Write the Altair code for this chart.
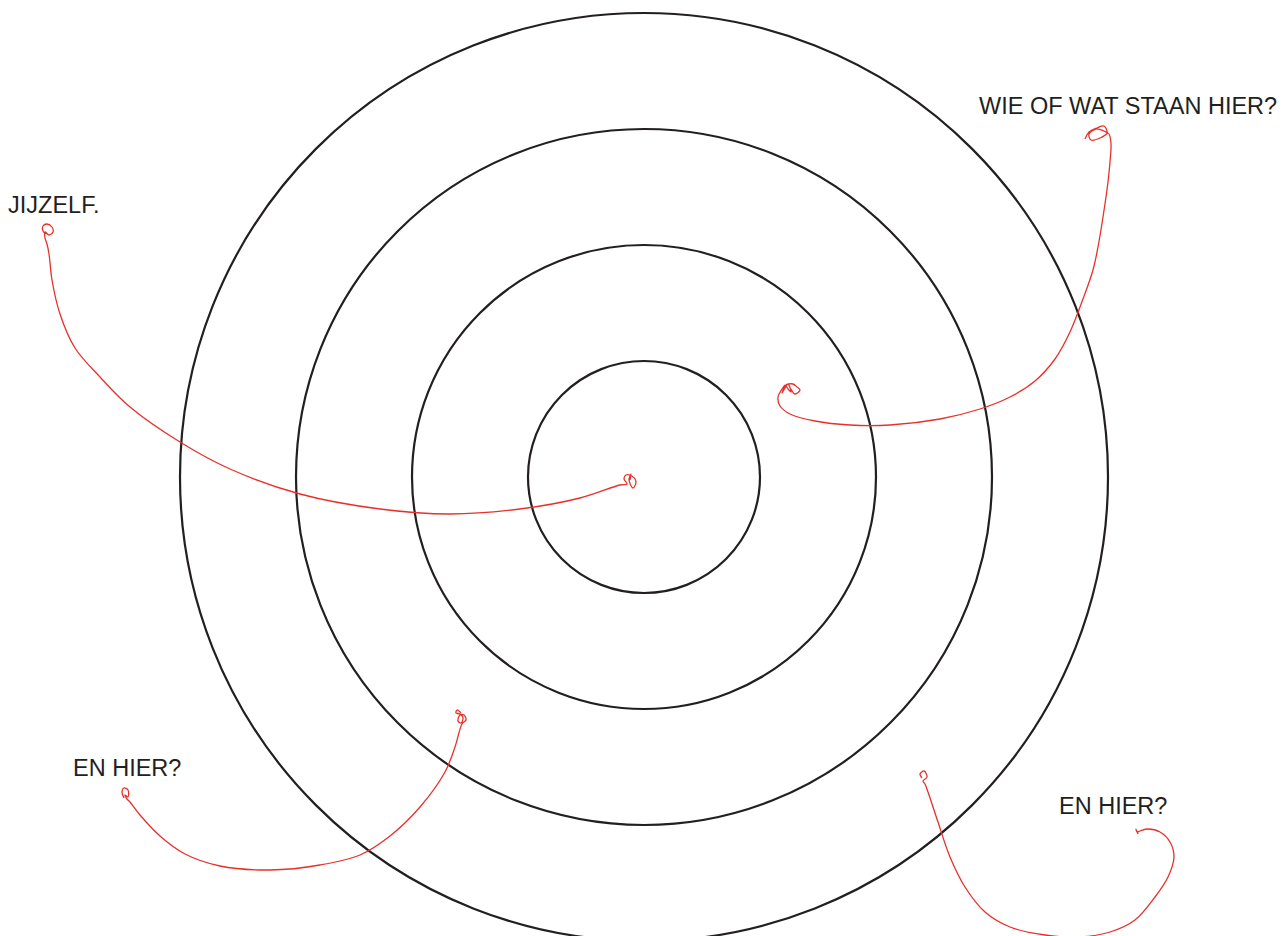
import altair as alt
import pandas as pd

# Concentric rings (centre and radii, in page pixels)
ring_cx = 644
ring_cy = 475
ring_r = [116, 232, 348, 464]

# Labels
label_text = ["JIJZELF.", "WIE OF WAT STAAN HIER?", "EN HIER?", "EN HIER?"]
label_x = [8, 979, 73, 1059]
label_y = [211, 112, 774, 812]

# Hand-drawn red strokes (traced points)
c1_x = [46, 43, 43, 47, 52, 53, 49, 45, 45, 47, 49, 52, 60, 75, 100, 130, 180, 230, 300, 380, 450, 520, 580, 620, 627, 624, 626, 632, 636, 633, 629, 631, 630]
c1_y = [232, 229, 224, 222, 225, 230, 233, 230, 236, 242, 252, 278, 312, 346, 375, 405, 440, 467, 492, 507, 512, 507, 496, 483, 482, 477, 473, 474, 480, 486, 478, 472, 478]

c2_x = [1085, 1089, 1097, 1104, 1107, 1100, 1091, 1089, 1096, 1104, 1109, 1111, 1110, 1108, 1103, 1098, 1093, 1083, 1070, 1055, 1035, 1010, 980, 940, 890, 850, 815, 790, 780, 778, 782, 785, 782, 788, 791, 786, 793, 797, 800, 795, 791]
c2_y = [137, 130, 126, 124, 131, 136, 138, 132, 127, 129, 132, 142, 160, 180, 215, 245, 268, 297, 330, 357, 379, 395, 407, 417, 423, 423, 419, 412, 404, 395, 387, 383, 391, 382, 390, 383, 382, 385, 388, 392, 387]

c3_x = [124, 122, 124, 128, 128, 125, 127, 130, 140, 160, 185, 220, 270, 320, 360, 390, 420, 445, 455, 462, 466, 464, 460, 458, 461, 463, 460, 456, 457, 461]
c3_y = [796, 790, 786, 788, 795, 793, 797, 800, 813, 834, 852, 864, 868, 863, 853, 834, 805, 770, 745, 722, 718, 713, 713, 719, 721, 716, 712, 711, 708, 711]

c4_x = [922, 920, 924, 927, 923, 925, 928, 938, 950, 965, 985, 1010, 1045, 1080, 1110, 1135, 1155, 1168, 1174, 1170, 1160, 1148, 1140, 1137, 1136, 1138]
c4_y = [776, 772, 769, 775, 779, 782, 790, 820, 855, 885, 910, 925, 933, 935, 930, 918, 895, 875, 855, 840, 830, 827, 829, 830, 827, 832]

xs = alt.Scale(domain=[8, 1280], nice=False, zero=False)
ys = alt.Scale(domain=[8, 928], nice=False, zero=False, reverse=True)

rings = pd.DataFrame({
    "x": [ring_cx] * len(ring_r),
    "y": [ring_cy] * len(ring_r),
    "s": [(2 * r) ** 2 for r in ring_r],
})

curves = []
for cid, (cx, cy) in enumerate([(c1_x, c1_y), (c2_x, c2_y), (c3_x, c3_y), (c4_x, c4_y)]):
    for i, (a, b) in enumerate(zip(cx, cy)):
        curves.append({"curve": cid, "order": i, "x": a, "y": b})
curves = pd.DataFrame(curves)

labels = pd.DataFrame({"text": label_text, "x": label_x, "y": label_y})

ring_layer = alt.Chart(rings).mark_point(
    shape="circle", filled=False, stroke="#231f20", strokeWidth=2.2, opacity=1
).encode(
    x=alt.X("x:Q", scale=xs, axis=None),
    y=alt.Y("y:Q", scale=ys, axis=None),
    size=alt.Size("s:Q", scale=None, legend=None),
)

curve_layer = alt.Chart(curves).mark_line(
    color="#e8302a", strokeWidth=1.3, interpolate="catmull-rom"
).encode(
    x=alt.X("x:Q", scale=xs, axis=None),
    y=alt.Y("y:Q", scale=ys, axis=None),
    detail="curve:N",
    order="order:Q",
)

text_layer = alt.Chart(labels).mark_text(
    align="left", baseline="alphabetic", font="Liberation Sans", fontSize=23.5, color="#231f20"
).encode(
    x=alt.X("x:Q", scale=xs, axis=None),
    y=alt.Y("y:Q", scale=ys, axis=None),
    text="text:N",
)

chart = alt.layer(ring_layer, curve_layer, text_layer).properties(
    width=1272, height=920, padding=0, background="white"
).configure_view(stroke=None)

chart.save("out.html", embed_options={"renderer": "svg", "actions": False})
